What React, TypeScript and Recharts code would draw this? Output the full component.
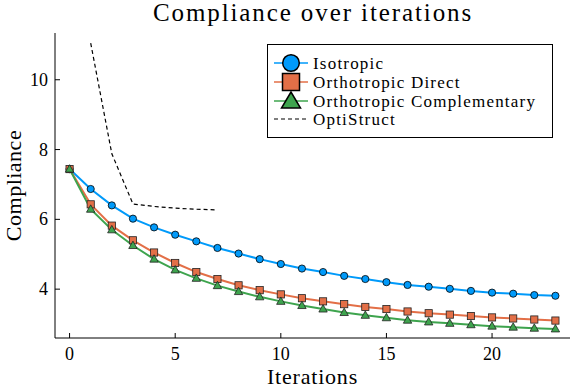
import React from "react";
import { LineChart, Line, XAxis, YAxis, Legend, Label, Customized } from "recharts";

const iterations = [0, 1, 2, 3, 4, 5, 6, 7, 8, 9, 10, 11, 12, 13, 14, 15, 16, 17, 18, 19, 20, 21, 22, 23];
const isotropic = [7.44, 6.87, 6.4, 6.02, 5.77, 5.56, 5.37, 5.18, 5.02, 4.86, 4.72, 4.59, 4.49, 4.38, 4.29, 4.2, 4.12, 4.07, 4.01, 3.95, 3.9, 3.87, 3.83, 3.81];
const orthoDirect = [7.44, 6.43, 5.82, 5.4, 5.05, 4.75, 4.49, 4.29, 4.11, 3.97, 3.85, 3.74, 3.65, 3.57, 3.49, 3.43, 3.36, 3.31, 3.27, 3.23, 3.19, 3.16, 3.13, 3.1];
const orthoComp = [7.44, 6.29, 5.7, 5.25, 4.86, 4.55, 4.31, 4.1, 3.93, 3.78, 3.65, 3.53, 3.43, 3.33, 3.25, 3.18, 3.11, 3.06, 3.02, 2.98, 2.94, 2.91, 2.88, 2.86];
// OptiStruct only covers iterations 1..7
const optiIters = [1, 2, 3, 4, 5, 6, 7];
const optiStruct = [11.05, 7.88, 6.44, 6.37, 6.32, 6.29, 6.27];

const xTicks = [0, 5, 10, 15, 20];
const yTicks = [4, 6, 8, 10];

const FONT = "'Liberation Serif', serif";
const BLUE = "#009AFA";
const ORANGE = "#E36F47";
const GREEN = "#3EA44E";

const data = iterations.map((it, i) => {
  const k = optiIters.indexOf(it);
  return {
    it,
    iso: isotropic[i],
    dir: orthoDirect[i],
    comp: orthoComp[i],
    opti: k >= 0 ? optiStruct[k] : null,
  };
});

const XTick = (props: any) => {
  const { x, y, payload } = props;
  return (
    <g>
      <line x1={x} x2={x} y1={y} y2={y - 5} stroke="#000" strokeWidth={1} />
      <text x={x} y={y + 22} textAnchor="middle" fontFamily={FONT} fontSize={18} fill="#000">
        {payload.value}
      </text>
    </g>
  );
};

const YTick = (props: any) => {
  const { x, y, payload } = props;
  return (
    <g>
      <line x1={x} x2={x + 5} y1={y} y2={y} stroke="#000" strokeWidth={1} />
      <text x={x - 7} y={y + 6} textAnchor="end" fontFamily={FONT} fontSize={18} fill="#000">
        {payload.value}
      </text>
    </g>
  );
};

const circleDot = (p: any) => (
  <circle key={`c-${p.index}`} cx={p.cx} cy={p.cy} r={3.6} fill={BLUE} stroke="#000" strokeWidth={0.8} />
);
const squareDot = (p: any) => (
  <rect key={`s-${p.index}`} x={p.cx - 3.6} y={p.cy - 3.6} width={7.2} height={7.2} fill={ORANGE} stroke="#222" strokeWidth={0.8} />
);
const triDot = (p: any) => (
  <polygon
    key={`t-${p.index}`}
    points={`${p.cx},${p.cy - 4.4} ${p.cx - 4.2},${p.cy + 3} ${p.cx + 4.2},${p.cy + 3}`}
    fill={GREEN}
    stroke="#222"
    strokeWidth={0.8}
  />
);

const renderLegend = () => {
  const rows = [
    { label: "Isotropic", color: BLUE, kind: "circle" },
    { label: "Orthotropic Direct", color: ORANGE, kind: "square" },
    { label: "Orthotropic Complementary", color: GREEN, kind: "tri" },
    { label: "OptiStruct", color: "#000", kind: "dash" },
  ];
  const rowY = [19, 38, 57, 75];
  return (
    <svg width={286} height={94} style={{ display: "block" }}>
      <rect x={0.5} y={0.5} width={285} height={93} fill="#fff" stroke="#000" strokeWidth={1} />
      {rows.map((r, i) => {
        const cy = rowY[i];
        return (
          <g key={r.label}>
            {r.kind === "dash" ? (
              <line x1={7} x2={41} y1={cy} y2={cy} stroke="#000" strokeWidth={1.2} strokeDasharray="4 3" />
            ) : (
              <line x1={7} x2={41} y1={cy} y2={cy} stroke={r.color} strokeWidth={1.5} />
            )}
            {r.kind === "circle" && <circle cx={24} cy={cy} r={8.3} fill={r.color} stroke="#000" strokeWidth={1.5} />}
            {r.kind === "square" && (
              <rect x={15.5} y={cy - 8.5} width={17} height={17} fill={r.color} stroke="#000" strokeWidth={1.5} />
            )}
            {r.kind === "tri" && (
              <polygon points={`24,${cy - 9} 14.5,${cy + 7} 33.5,${cy + 7}`} fill={r.color} stroke="#000" strokeWidth={1.5} />
            )}
            <text x={46} y={cy + 5.5} fontFamily={FONT} fontSize={17} letterSpacing={1.2} fill="#000">
              {r.label}
            </text>
          </g>
        );
      })}
    </svg>
  );
};

const Title = () => (
  <text x={313} y={21} textAnchor="middle" fontFamily={FONT} fontSize={25} letterSpacing={1.9} fill="#000">
    Compliance over iterations
  </text>
);

export default function App() {
  return (
    <div style={{ position: "absolute", left: 0, top: 0, width: 581, height: 388, background: "#fff" }}>
      <LineChart width={581} height={388} data={data} margin={{ top: 33, right: 11, bottom: 0, left: 0 }}>
        <XAxis
          dataKey="it"
          type="number"
          domain={[-0.69, 23.69]}
          ticks={xTicks}
          allowDataOverflow
          height={50}
          tickSize={0}
          tickMargin={0}
          tick={<XTick />}
          axisLine={{ stroke: "#000", strokeWidth: 1 }}
          tickLine={false}
        >
          <Label
            content={(p: any) => (
              <text
                x={p.viewBox.x + p.viewBox.width / 2}
                y={p.viewBox.y + 46}
                textAnchor="middle"
                fontFamily={FONT}
                fontSize={22}
                letterSpacing={0.8}
                fill="#000"
              >
                Iterations
              </text>
            )}
          />
        </XAxis>
        <YAxis
          type="number"
          domain={[2.6, 11.34]}
          ticks={yTicks}
          allowDataOverflow
          width={55}
          tickSize={0}
          tickMargin={0}
          tick={<YTick />}
          axisLine={{ stroke: "#000", strokeWidth: 1 }}
          tickLine={false}
        >
          <Label
            content={(p: any) => {
              const cx = 21;
              const cy = p.viewBox.y + p.viewBox.height / 2;
              return (
                <text
                  x={cx}
                  y={cy}
                  textAnchor="middle"
                  transform={`rotate(-90 ${cx} ${cy})`}
                  fontFamily={FONT}
                  fontSize={22}
                  letterSpacing={0.5}
                  fill="#000"
                >
                  Compliance
                </text>
              );
            }}
          />
        </YAxis>
        <Line dataKey="iso" type="linear" stroke={BLUE} strokeWidth={2} dot={circleDot} isAnimationActive={false} />
        <Line dataKey="dir" type="linear" stroke={ORANGE} strokeWidth={2} dot={squareDot} isAnimationActive={false} />
        <Line dataKey="comp" type="linear" stroke={GREEN} strokeWidth={2} dot={triDot} isAnimationActive={false} />
        <Line
          dataKey="opti"
          type="linear"
          stroke="#000"
          strokeWidth={1.2}
          strokeDasharray="4 3"
          dot={false}
          isAnimationActive={false}
        />
        <Legend
          layout="vertical"
          align="center"
          verticalAlign="middle"
          content={renderLegend}
          wrapperStyle={{ left: 267, top: 44, width: 286, height: 94 }}
        />
        <Customized component={Title} />
      </LineChart>
    </div>
  );
}
